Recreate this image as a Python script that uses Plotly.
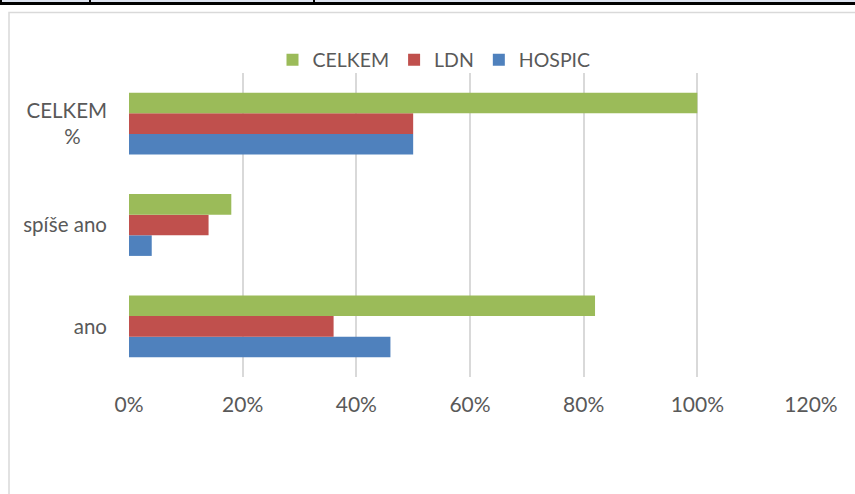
import plotly.graph_objects as go

categories = ["ano", "spíše ano", "CELKEM<br>%" + "\u00a0" * 5]
hospic = [0.46, 0.04, 0.50]
ldn = [0.36, 0.14, 0.50]
celkem = [0.82, 0.18, 1.00]
x_ticks = [0, 0.2, 0.4, 0.6, 0.8, 1.0, 1.2]
x_tick_labels = ["0%", "20%", "40%", "60%", "80%", "100%", "120%"]

W, H = 855, 494
L, R, T, B = 129, 44, 73, 117
PW, PH = W - L - R, H - T - B

def px(x):
    return (x - L) / PW

def py(y):
    return (H - B - y) / PH

fig = go.Figure()
fig.add_trace(go.Bar(y=categories, x=hospic, name="HOSPIC", orientation="h",
                     marker=dict(color="#4f81bd", line=dict(width=0))))
fig.add_trace(go.Bar(y=categories, x=ldn, name="LDN", orientation="h",
                     marker=dict(color="#c0504d", line=dict(width=0))))
fig.add_trace(go.Bar(y=categories, x=celkem, name="CELKEM", orientation="h",
                     marker=dict(color="#9bbb59", line=dict(width=0))))

font = "Lato, 'Open Sans', sans-serif"
shapes = [
    # chart frame
    dict(type="rect", xref="paper", yref="paper", x0=px(9), x1=px(900), y0=py(560), y1=py(12.5),
         line=dict(color="#d9d9d9", width=1.5), fillcolor="rgba(0,0,0,0)", layer="below"),
    # top table border
    dict(type="rect", xref="paper", yref="paper", x0=px(0), x1=px(855), y0=py(2), y1=py(0),
         line=dict(width=0), fillcolor="#dde3ef"),
    dict(type="rect", xref="paper", yref="paper", x0=px(0), x1=px(855), y0=py(5), y1=py(2),
         line=dict(width=0), fillcolor="#000000"),
    dict(type="rect", xref="paper", yref="paper", x0=px(0), x1=px(2), y0=py(5), y1=py(0),
         line=dict(width=0), fillcolor="#000000"),
    dict(type="rect", xref="paper", yref="paper", x0=px(89), x1=px(91), y0=py(5), y1=py(0),
         line=dict(width=0), fillcolor="#000000"),
    dict(type="rect", xref="paper", yref="paper", x0=px(313), x1=px(315), y0=py(5), y1=py(0),
         line=dict(width=0), fillcolor="#000000"),
]

fig.update_layout(
    width=W, height=H,
    margin=dict(l=L, r=R, t=T, b=B),
    paper_bgcolor="white", plot_bgcolor="white",
    barmode="group", bargap=0.39, bargroupgap=0,
    font=dict(family=font, size=20, color="#595959"),
    legend=dict(orientation="h", x=px(434), xanchor="center", y=py(60), yanchor="middle",
                traceorder="reversed", font=dict(size=19.5, color="#595959"),
                itemwidth=30, bgcolor="rgba(0,0,0,0)"),
    xaxis=dict(range=[0, 1.2], tickvals=x_ticks, ticktext=x_tick_labels,
               showgrid=True, gridcolor="#d9d9d9", gridwidth=1.5,
               zeroline=False, showline=False, ticks="", ticklabelstandoff=13,
               tickfont=dict(size=21, color="#595959")),
    yaxis=dict(showgrid=False, zeroline=False, showline=False, ticks="",
               ticklabelstandoff=21, tickfont=dict(size=20.5, color="#595959")),
    shapes=shapes,
)

fig.write_html("out.html")
